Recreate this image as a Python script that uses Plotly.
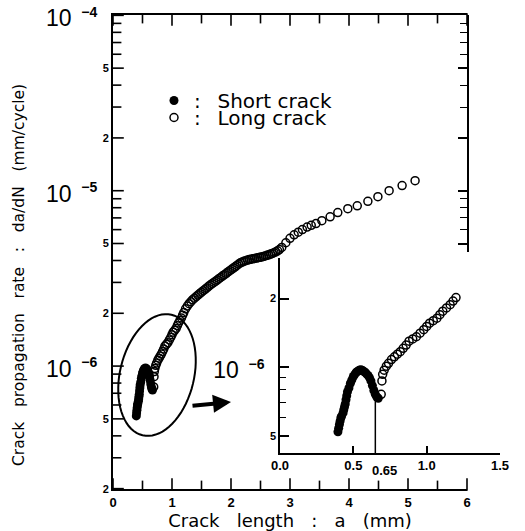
import math
import plotly.graph_objects as go

# ---------------- data ----------------
short_a = [0.395, 0.40, 0.405, 0.41, 0.415, 0.42, 0.43, 0.435, 0.44, 0.445, 0.45, 0.455,
           0.46, 0.47, 0.48, 0.49, 0.50, 0.51, 0.52, 0.53, 0.54, 0.55, 0.56, 0.57, 0.58,
           0.59, 0.60, 0.61, 0.62, 0.63, 0.64, 0.65, 0.66, 0.67]
short_rate = [5.2e-7, 5.4e-7, 5.6e-7, 5.8e-7, 6.0e-7, 6.1e-7, 6.3e-7, 6.5e-7, 6.7e-7, 6.9e-7,
              7.2e-7, 7.5e-7, 7.8e-7, 8.1e-7, 8.5e-7, 8.8e-7, 9.1e-7, 9.3e-7, 9.5e-7, 9.6e-7,
              9.7e-7, 9.75e-7, 9.7e-7, 9.6e-7, 9.5e-7, 9.35e-7, 9.2e-7, 9.0e-7, 8.7e-7, 8.3e-7,
              7.9e-7, 7.6e-7, 7.4e-7, 7.3e-7]

long_a = [0.69, 0.695, 0.70, 0.71, 0.725, 0.74, 0.76, 0.78, 0.80, 0.82, 0.84, 0.86, 0.88,
          0.905, 0.93, 0.955, 0.98, 1.00, 1.02, 1.045, 1.07, 1.09, 1.11, 1.135, 1.16, 1.18, 1.20,
          1.23, 1.26, 1.29, 1.32, 1.35, 1.38, 1.41, 1.44, 1.47, 1.50, 1.53, 1.56, 1.59, 1.62,
          1.65, 1.68, 1.71, 1.74, 1.77, 1.80, 1.83, 1.86, 1.89, 1.92, 1.95, 1.98, 2.01, 2.04,
          2.07, 2.10, 2.13, 2.16, 2.19, 2.22, 2.25, 2.28, 2.31, 2.34, 2.37, 2.40, 2.43, 2.46,
          2.49, 2.52, 2.55, 2.58, 2.61, 2.64, 2.67, 2.70, 2.73, 2.76, 2.79, 2.82,
          2.86, 2.93, 3.00, 3.07, 3.14, 3.21, 3.29, 3.36, 3.44, 3.54, 3.68, 3.81, 3.98, 4.14,
          4.32, 4.49, 4.68, 4.90, 5.12]
long_rate = [7.6e-7, 8.7e-7, 9.3e-7, 9.7e-7, 1.01e-6, 1.04e-6, 1.08e-6, 1.11e-6, 1.14e-6,
             1.17e-6, 1.21e-6, 1.25e-6, 1.30e-6, 1.33e-6, 1.36e-6, 1.41e-6, 1.46e-6, 1.51e-6,
             1.56e-6, 1.60e-6, 1.64e-6, 1.70e-6, 1.76e-6, 1.82e-6, 1.88e-6, 1.95e-6, 2.02e-6,
             2.12e-6, 2.20e-6, 2.27e-6, 2.33e-6, 2.39e-6, 2.44e-6, 2.49e-6, 2.54e-6, 2.59e-6,
             2.64e-6, 2.69e-6, 2.74e-6, 2.79e-6, 2.85e-6, 2.90e-6, 2.95e-6, 3.00e-6, 3.05e-6,
             3.10e-6, 3.16e-6, 3.21e-6, 3.27e-6, 3.32e-6, 3.38e-6, 3.44e-6, 3.50e-6, 3.56e-6,
             3.62e-6, 3.68e-6, 3.75e-6, 3.82e-6, 3.88e-6, 3.92e-6, 3.96e-6, 3.99e-6, 4.02e-6,
             4.05e-6, 4.07e-6, 4.09e-6, 4.11e-6, 4.13e-6, 4.15e-6, 4.17e-6, 4.19e-6, 4.22e-6,
             4.25e-6, 4.28e-6, 4.31e-6, 4.35e-6, 4.39e-6, 4.43e-6, 4.48e-6, 4.54e-6, 4.62e-6,
             4.75e-6, 5.05e-6, 5.35e-6, 5.60e-6, 5.80e-6, 6.00e-6, 6.20e-6, 6.35e-6, 6.50e-6,
             6.75e-6, 7.10e-6, 7.50e-6, 7.90e-6, 8.20e-6, 8.70e-6, 9.25e-6, 1.00e-5, 1.07e-5,
             1.14e-5]

inset_a_max = 1.2          # inset shows data up to a = 1.2 mm
transition_a = 0.65        # short -> long crack transition
transition_rate = 7.3e-7

x_ticks_main = [0, 1, 2, 3, 4, 5, 6]
x_minor_main = [0.5, 1.5, 2.5, 3.5, 4.5, 5.5]
x_ticks_inset = [0.0, 0.5, 1.0, 1.5]
y_main_lo, y_main_hi = 2e-7, 1e-4
inset_y_lo, inset_y_hi = 4.2e-7, 3e-6

# ---------------- geometry ----------------
W, H = 525, 531
L, R, T, B = 113, 20, 15, 42
PW, PH = W - L - R, H - T - B


def px_x(p):
    return (p - L) / PW


def px_y(p):
    return (T + PH - p) / PH


main_xdom = [0, px_x(467)]
inset_xdom = [px_x(280), px_x(500)]
inset_ydom = [px_y(453), px_y(258)]
right_ydom = [px_y(252), 1]
MW = (main_xdom[1] - main_xdom[0]) * PW


def dec_label(e):
    return ('<span style="font-size:7px">\u00a0</span><br>'
            '<span style="font-size:23px">10<sup><span style="font-size:14px"><b>'
            f'\u2002\u2009\u2212{e}</b></span></sup>\u2002</span>')


def digit(d):
    return f'<b>{d}</b>'


# main y ticks
main_tv, main_tt, main_minor = [], [], []
for e in [7, 6, 5, 4]:
    base = 10.0 ** (-e)
    for d in range(1, 10):
        v = d * base
        if v < y_main_lo * 0.999 or v > y_main_hi * 1.001:
            continue
        if d == 1:
            main_tv.append(v); main_tt.append(dec_label(e))
        elif d in (2, 5):
            main_tv.append(v); main_tt.append(digit(d))
        else:
            main_minor.append(v)

lo, hi = math.log10(y_main_lo), math.log10(y_main_hi)
eps = 0.002
y_range = [lo - eps, hi + eps]
right_range = [y_range[0] + right_ydom[0] * (y_range[1] - y_range[0]), y_range[1]]
right_major = [v for v in main_tv if math.log10(v) >= right_range[0]]
right_minor = [v for v in main_minor if math.log10(v) >= right_range[0]]

inset_tv = [5e-7, 1e-6, 2e-6]
inset_tt = [digit(5), dec_label(6), digit(2)]
inset_minor = [6e-7, 7e-7, 8e-7, 9e-7, 3e-6]

inset_long_a = [a for a in long_a if a <= inset_a_max + 1e-9]
inset_long_r = long_rate[:len(inset_long_a)]

fig = go.Figure()

# ---- tick marks of the main frame (left, bottom, top) as short line glyphs ----
x_per_px = 6.0 / MW
dec_per_px = (y_range[1] - y_range[0]) / PH
y_bot, y_top = 10 ** y_range[0], 10 ** y_range[1]
for major, yvals, xvals in [(True, main_tv, x_ticks_main), (False, main_minor, x_minor_main)]:
    ln = 9 if major else 7
    fig.add_trace(go.Scatter(
        x=[ln / 2 * x_per_px] * len(yvals), y=yvals, mode="markers",
        marker=dict(symbol="line-ew", size=ln, color="black", line=dict(width=1.6, color="black")),
        hoverinfo="skip", showlegend=False, cliponaxis=False))
    f = 10 ** (ln / 2 * dec_per_px)
    fig.add_trace(go.Scatter(
        x=list(xvals) + list(xvals), y=[y_bot * f] * len(xvals) + [y_top / f] * len(xvals),
        mode="markers",
        marker=dict(symbol="line-ns", size=ln, color="black", line=dict(width=1.6, color="black")),
        hoverinfo="skip", showlegend=False, cliponaxis=False))

open_marker = dict(symbol="circle-open", size=8, color="black", line=dict(width=1.5, color="black"))
fill_marker = dict(symbol="circle", size=9, color="black")

fig.add_trace(go.Scatter(x=long_a, y=long_rate, mode="markers", marker=open_marker,
                         name=":\u00a0\u00a0\u2009Long crack", legend="legend2"))
fig.add_trace(go.Scatter(x=short_a, y=short_rate, mode="markers", marker=fill_marker,
                         name=":\u00a0\u00a0\u2009Short crack", legend="legend"))
fig.add_trace(go.Scatter(x=inset_long_a, y=inset_long_r, mode="markers", marker=open_marker,
                         xaxis="x2", yaxis="y2", showlegend=False))
fig.add_trace(go.Scatter(x=short_a, y=short_rate, mode="markers", marker=fill_marker,
                         xaxis="x2", yaxis="y2", showlegend=False))
# helper subplot carrying the partial right-hand frame of the main plot
fig.add_trace(go.Scatter(x=[], y=[], xaxis="x4", yaxis="y4", showlegend=False, hoverinfo="skip"))

tickfont = dict(family="Liberation Sans", size=11, color="black")
titlefont = dict(family="DejaVu Sans", color="black")
NB = "\u00a0\u00a0\u00a0"
tick_style = dict(ticks="inside", ticklen=9, tickwidth=1.6, tickcolor="black")
minor_style = dict(ticks="inside", ticklen=7, tickwidth=1.4, tickcolor="black")

fig.update_layout(
    template="none",
    width=W, height=H,
    font=dict(color="black"),
    margin=dict(l=L, r=R, t=T, b=B, pad=0),
    paper_bgcolor="white", plot_bgcolor="rgba(0,0,0,0)",
    xaxis=dict(domain=main_xdom, range=[0, 6], tickvals=x_ticks_main,
               ticktext=[digit(v) for v in x_ticks_main],
               ticks="", showline=True, linecolor="black", linewidth=2, mirror=True,
               showgrid=False, zeroline=False, tickfont=dict(tickfont, size=13),
               title=dict(text=NB.join(["Crack", "length", ":", "a", "(mm)"]),
                          font=dict(titlefont, size=18), standoff=2),
               anchor="y"),
    yaxis=dict(type="log", domain=[0, 1], range=y_range, tickvals=main_tv, ticktext=main_tt,
               ticks="", showline=True, linecolor="black", linewidth=2, mirror=False,
               ticklabeloverflow="allow",
               showgrid=False, zeroline=False, tickfont=tickfont,
               title=dict(text=NB.join(["Crack", "propagation", "rate", ":", "da/dN", "(mm/cycle)"])
                          + "\u00a0" * 7 + "\u2800",
                          font=dict(titlefont, size=15.5), standoff=18),
               anchor="x"),
    xaxis2=dict(domain=inset_xdom, range=[0, 1.5], tickvals=x_ticks_inset,
                ticktext=[digit(f"{v:.1f}") for v in x_ticks_inset],
                ticks="inside", ticklen=7, tickwidth=1.5, tickcolor="black",
                showline=True, linecolor="black", linewidth=1.5, mirror=False,
                showgrid=False, zeroline=False, tickfont=dict(tickfont, size=13), anchor="y2"),
    yaxis2=dict(type="log", domain=inset_ydom,
                range=[math.log10(inset_y_lo), math.log10(inset_y_hi) + eps],
                tickvals=inset_tv, ticktext=inset_tt,
                ticks="inside", ticklen=9, tickwidth=1.5, tickcolor="black",
                minor=dict(tickvals=inset_minor, ticks="inside", ticklen=6, tickwidth=1.2,
                           tickcolor="black"),
                showline=True, linecolor="black", linewidth=1.5, mirror=False,
                showgrid=False, zeroline=False, tickfont=tickfont, anchor="x2"),
    xaxis4=dict(domain=main_xdom, range=[0, 6], visible=False, anchor="y4"),
    yaxis4=dict(type="log", domain=right_ydom, range=right_range, side="right", anchor="x4",
                tickvals=right_major, showticklabels=False, **tick_style,
                minor=minor_style | dict(tickvals=right_minor),
                showline=True, linecolor="black", linewidth=2, showgrid=False, zeroline=False),
    legend=dict(x=px_x(154), y=px_y(81), xanchor="left", yanchor="top",
                bgcolor="rgba(0,0,0,0)", font=dict(titlefont, size=20), itemwidth=30),
    legend2=dict(x=px_x(154), y=px_y(98), xanchor="left", yanchor="top",
                 bgcolor="rgba(0,0,0,0)", font=dict(titlefont, size=20), itemwidth=30),
    showlegend=True,
)

# ellipse around the short-crack region (pixel geometry -> paper coordinates)
cx, cy, sa, sb, th = 157, 375, 62, 37, math.radians(13.5)
pts = []
for i in range(73):
    t = 2 * math.pi * i / 72
    px = cx + sa * math.sin(t) * math.sin(th) + sb * math.cos(t) * math.cos(th)
    py = cy - sa * math.sin(t) * math.cos(th) + sb * math.cos(t) * math.sin(th)
    pts.append(f"{px_x(px):.4f},{px_y(py):.4f}")
path = "M " + " L ".join(pts) + " Z"
fig.add_shape(type="path", path=path, xref="paper", yref="paper",
              line=dict(color="black", width=2))

# transition line in inset
fig.add_shape(type="line", xref="x2", yref="y2", x0=transition_a, x1=transition_a,
              y0=inset_y_lo, y1=transition_rate, line=dict(color="black", width=1.5))
fig.add_annotation(x=transition_a, y=0, xref="x2", yref="y2 domain", text="<b>0.65</b>",
                   showarrow=False, yanchor="top", xanchor="center", xshift=9, yshift=-8,
                   font=dict(tickfont, size=13))

# arrow pointing to the inset
fig.add_annotation(x=px_x(231), y=px_y(402), xref="paper", yref="paper", text="",
                   showarrow=True, ax=-40, ay=4, arrowhead=2, arrowsize=0.9, arrowwidth=4,
                   arrowcolor="black")

fig.write_html("out.html")
